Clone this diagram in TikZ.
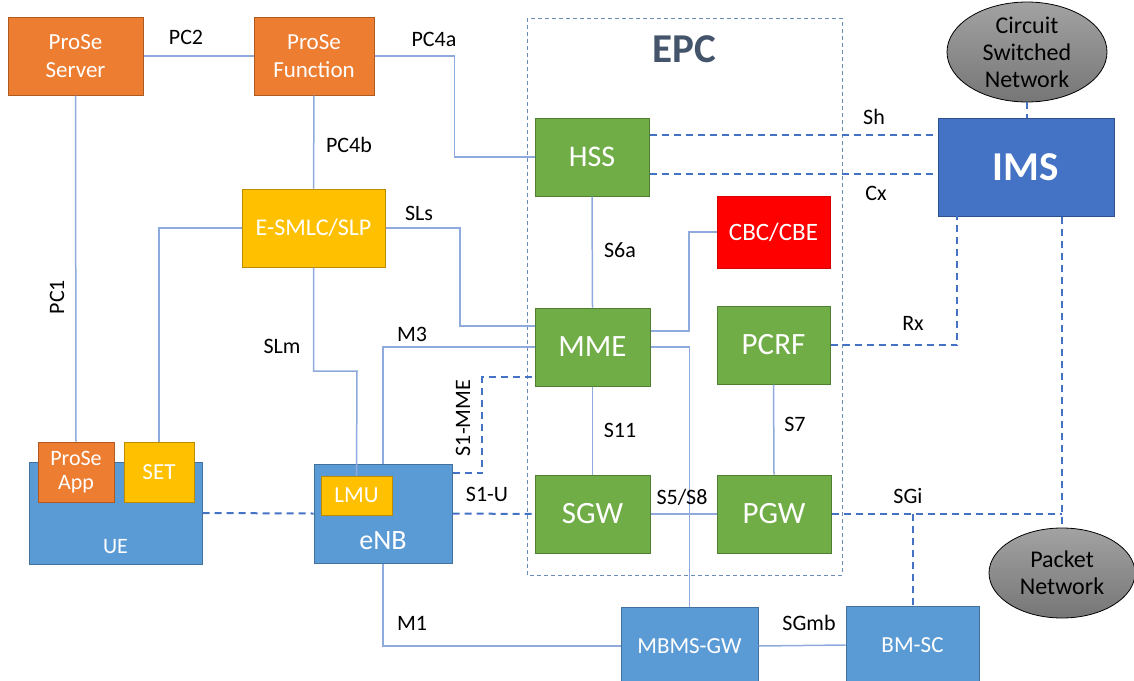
\documentclass[tikz,border=0pt]{standalone}
\usepackage{fontspec}
\setmainfont{Carlito}
\usetikzlibrary{shapes.geometric,calc}
\definecolor{orng}{HTML}{ED7D31}
\definecolor{orngb}{HTML}{AE5A21}
\definecolor{grn}{HTML}{70AD47}
\definecolor{grnb}{HTML}{507E32}
\definecolor{yel}{HTML}{FFC000}
\definecolor{yelb}{HTML}{BC8C00}
\definecolor{blu}{HTML}{5B9BD5}
\definecolor{blub}{HTML}{41719C}
\definecolor{imsc}{HTML}{4472C4}
\definecolor{imsb}{HTML}{2F528F}
\definecolor{lline}{HTML}{8FAADC}
\definecolor{dline}{HTML}{4472C4}
\definecolor{epcc}{HTML}{44546A}
\definecolor{epcb}{HTML}{6A8CB7}
\definecolor{gtop}{HTML}{A2A2A2}
\definecolor{gbot}{HTML}{767676}
\tikzset{
  fs/.style={font=\fontsize{#1}{\the\numexpr#1*6/5\relax}\selectfont},
  bx/.style={draw, line width=1pt, inner sep=0pt, text=white, align=center},
  obox/.style={bx, fill=orng, draw=orngb},
  gbox/.style={bx, fill=grn, draw=grnb},
  ybox/.style={bx, fill=yel, draw=yelb},
  bbox/.style={bx, fill=blu, draw=blub},
  cloud/.style={ellipse, draw=black, line width=0.8pt, top color=gtop, bottom color=gbot, align=center, inner sep=0pt},
  sl/.style={draw=lline, line width=1.5pt},
  dl/.style={draw=dline, line width=2pt, dash pattern=on 7pt off 5pt},
  lab/.style={fs=22, text=black, inner sep=0pt},
}
\begin{document}
\begin{tikzpicture}[x=1pt,y=-1pt]
\useasboundingbox (0,0) rectangle (1134,680);
% EPC frame
\draw[draw=epcb, line width=1pt, dash pattern=on 4pt off 3pt] (527,18) rectangle (842,575);
\node[font=\bfseries\fontsize{41}{46}\selectfont, text=epcc] (epc) at (684,49) {EPC};

% nodes
\node[obox, fs=23, minimum width=135, minimum height=78] (pserver) at (75.5,56) {ProSe\\[0pt]Server};
\node[obox, fs=23, minimum width=120, minimum height=78] (pfunc) at (314,56) {ProSe\\[0pt]Function};
\node[ybox, fs=24, minimum width=143, minimum height=78] (esmlc) at (313.5,228) {E-SMLC/SLP};
\node[gbox, fs=30, minimum width=114, minimum height=78] (hss) at (592,157) {HSS};
\node[bx, fill=red, draw=red!85!black, fs=25, minimum width=113, minimum height=72] (cbc) at (773.5,232) {CBC/CBE};
\node[bx, fill=imsc, draw=imsb, font=\bfseries\fontsize{41}{46}\selectfont, minimum width=176, minimum height=98] (ims) at (1026,167) {IMS};
\node[gbox, fs=31, minimum width=115, minimum height=78] (mme) at (592.5,347) {MME};
\node[gbox, fs=31, minimum width=113, minimum height=78] (pcrf) at (773.5,345) {PCRF};
\node[gbox, fs=31, minimum width=115, minimum height=78] (sgw) at (592.5,514) {SGW};
\node[gbox, fs=31, minimum width=114, minimum height=78] (pgw) at (774,514) {PGW};
\node[bbox, minimum width=173, minimum height=102] (ue) at (115.5,513) {};
\node[fs=22, text=white, inner sep=0pt] (uelab) at (115.5,547) {UE};
\node[obox, fs=22, minimum width=76, minimum height=60] (papp) at (76,472) {ProSe\\[-2pt]App};
\node[ybox, fs=23, minimum width=70, minimum height=60] (set) at (159,472) {SET};
\node[bbox, minimum width=138, minimum height=99] (enb) at (383,513.5) {};
\node[fs=28, text=white, inner sep=0pt] (enblab) at (383,541) {eNB};
\node[ybox, fs=23, minimum width=71, minimum height=39] (lmu) at (356.5,495.5) {LMU};
\node[bbox, fs=23, minimum width=137, minimum height=78] (mbms) at (689.5,646) {MBMS-GW};
\node[bbox, fs=23, minimum width=133, minimum height=78] (bmsc) at (912.5,645) {BM-SC};
\node[cloud, fs=24, minimum width=160, minimum height=90] (cs) at (1027,52) {Circuit\\[-2pt]Switched\\[-2pt]Network};
\node[cloud, fs=24, minimum width=146, minimum height=90] (pn) at (1062,573) {Packet\\[-2pt]Network};

% helper coordinates
\coordinate (sls1) at (460,326);
\coordinate (slm1) at (357,371);
\coordinate (s1a) at (482,473);
\coordinate (s1b) at (482,377);
\coordinate (cbcc) at (689,331);
\coordinate (shy) at (800,135);
\coordinate (cxy) at (800,174);
\coordinate (rxc) at (957,216);

% solid connectors
\draw[sl] (pserver) -- (pfunc);
\draw[sl] (pfunc.east) -- ++(80,0) |- (hss.west);
\draw[sl] (pfunc.south) -- (esmlc.north);
\draw[sl] (esmlc.west) -| (set.north);
\draw[sl] (esmlc.east) -| (sls1) -- (sls1 -| mme.west);
\draw[sl] (esmlc.south) |- (slm1) -- (lmu.north);
\draw[sl] (pserver.south) -- (papp.north);
\draw[sl] (enb.north) |- (mme.west);
\draw[sl] (enb.south) |- (mbms.west);
\draw[sl] (hss.south) -- (mme.north);
\draw[sl] (mme.south) -- (sgw.north);
\draw[sl] (pcrf.south) -- (pgw.north);
\draw[sl] (sgw.east) -- (pgw.west);
\draw[sl] (cbc.west) -| (cbcc) -- (cbcc -| mme.east);
\draw[sl] (mme.east) -| (mbms.north);
\draw[sl] (mbms.east) -- (bmsc.west);

% dashed connectors
\draw[dl] (ue.east) -- (enb.west);
\draw[dl] (enb.east) -- (sgw.west);
\draw[dl] (s1a -| enb.east) -- (s1a) -- (s1b) -- (s1b -| mme.west);
\draw[dl] (shy -| hss.east) -- (shy -| ims.west);
\draw[dl] (cxy -| hss.east) -- (cxy -| ims.west);
\draw[dl] (pcrf.east) -| (rxc);
\draw[dl] (ims.south -| pn.north) -- (pn.north);
\draw[dl] (pgw.east) -- (pgw.east -| pn.north);
\draw[dl] (pgw.east -| bmsc.north) -- (bmsc.north);
\draw[dl] (cs.south) -- (cs.south |- ims.north);

% labels
\node[lab] (lpc2) at (186,37) {PC2};
\node[lab] (lpc4a) at (434,39) {PC4a};
\node[lab] (lpc4b) at (349,145) {PC4b};
\node[lab] (lsls) at (419,213) {SLs};
\node[lab, rotate=90] (lpc1) at (57,297) {PC1};
\node[lab] (lslm) at (282,346) {SLm};
\node[lab] (lm3) at (412,334) {M3};
\node[lab, rotate=90] (ls1mme) at (463,418) {S1-MME};
\node[lab] (ls1u) at (487,494) {S1-U};
\node[lab] (lm1) at (412,623) {M1};
\node[lab] (ls6a) at (620,250) {S6a};
\node[lab] (ls11) at (620,430) {S11};
\node[lab] (ls7) at (795,424) {S7};
\node[lab] (ls5) at (682,497) {S5/S8};
\node[lab] (lsh) at (874,117) {Sh};
\node[lab] (lcx) at (876,193) {Cx};
\node[lab] (lrx) at (913,323) {Rx};
\node[lab] (lsgi) at (908,496) {SGi};
\node[lab] (lsgmb) at (809,623) {SGmb};
\end{tikzpicture}
\end{document}
